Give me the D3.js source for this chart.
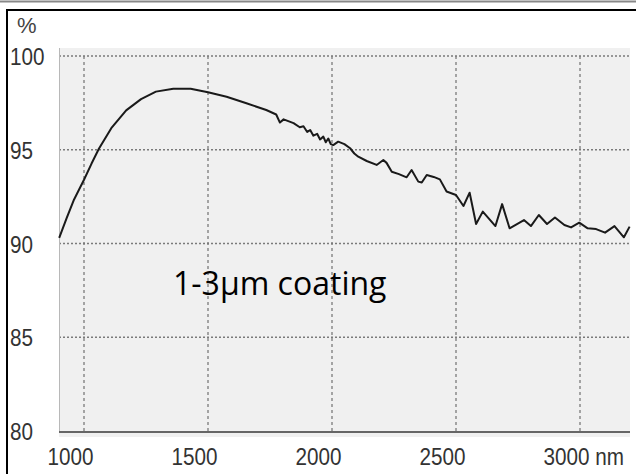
<!DOCTYPE html>
<html>
<head>
<meta charset="utf-8">
<script src="https://cdn.jsdelivr.net/npm/d3@7"></script>
<style>
  body { margin: 0; background: #fff; }
  svg { display: block; }
</style>
</head>
<body>
<div id="chart"></div>
<script>
// reflectance spectrum
const wavelength = [900, 930, 960, 1000, 1030, 1060, 1110, 1170, 1230, 1290, 1360, 1430, 1500, 1575, 1655, 1735,
    1775, 1790, 1805, 1845, 1870, 1885, 1900, 1912, 1925, 1940, 1952, 1965, 1975, 1985, 1995, 2005, 2025, 2050,
    2073, 2090, 2106, 2140, 2180, 2207, 2220, 2241, 2270, 2301, 2321, 2348, 2362, 2382, 2410, 2435, 2462, 2500,
    2530, 2555, 2581, 2608, 2659, 2686, 2716, 2774, 2802, 2834, 2867, 2899, 2937, 2964, 2997, 3031, 3065, 3101,
    3139, 3177, 3200];
const reflectance = [90.3, 91.35, 92.35, 93.4, 94.25, 95.05, 96.15, 97.1, 97.7, 98.1, 98.25, 98.25, 98.07, 97.83, 97.48, 97.12,
    96.88, 96.45, 96.62, 96.42, 96.2, 96.25, 95.95, 96.05, 95.75, 95.85, 95.55, 95.7, 95.4, 95.6, 95.3, 95.25, 95.43, 95.3,
    95.08, 94.8, 94.63, 94.4, 94.19, 94.45, 94.3, 93.83, 93.7, 93.53, 93.92, 93.3, 93.25, 93.65, 93.55, 93.42, 92.77, 92.59,
    92.0, 92.71, 91.04, 91.7, 90.93, 92.1, 90.81, 91.25, 90.93, 91.52, 91.04, 91.39, 90.99, 90.86, 91.11, 90.81, 90.77, 90.58,
    90.93, 90.33, 90.9];

const xTicks = [1000, 1500, 2000, 2500, 3000];
const yTicks = [80, 85, 90, 95, 100];
const yGrid = [85, 90, 95, 100];
const unitX = "nm";
const unitY = "%";
const note = "1-3µm coating";

const width = 636;
const height = 474;
const plot = { left: 59, right: 630, top: 48, bottom: 437 };
const tickFont = "'Liberation Sans', Arial, sans-serif";
const charWidth = 11.5; // narrow tick font, squeezed per character

const svg = d3.select("#chart")
    .append("svg")
    .attr("width", width)
    .attr("height", height);

// frame lines
svg.append("line")
    .attr("x1", 0).attr("x2", width)
    .attr("y1", 1.5).attr("y2", 1.5)
    .attr("stroke", "#888").attr("stroke-width", 2);
svg.append("line")
    .attr("x1", 6).attr("x2", width)
    .attr("y1", 10).attr("y2", 10)
    .attr("stroke", "#000").attr("stroke-width", 2);
svg.append("line")
    .attr("x1", 7).attr("x2", 7)
    .attr("y1", 9).attr("y2", height)
    .attr("stroke", "#000").attr("stroke-width", 2);

const x = d3.scaleLinear()
    .domain([900, 3200])
    .range([59.2, 629.6]);

const y = d3.scaleLinear()
    .domain([80, 100])
    .range([431, 56]);

svg.append("rect")
    .attr("x", plot.left)
    .attr("y", plot.top)
    .attr("width", plot.right - plot.left)
    .attr("height", plot.bottom - plot.top)
    .attr("fill", "#f0f0f0");

// grid
svg.append("g")
    .selectAll("line")
    .data(yGrid)
    .join("line")
    .attr("x1", plot.left)
    .attr("x2", plot.right)
    .attr("y1", d => y(d))
    .attr("y2", d => y(d))
    .attr("stroke", "#7a7a7a")
    .attr("stroke-width", 1.3)
    .attr("stroke-dasharray", "2,2");

svg.append("g")
    .selectAll("line")
    .data(xTicks)
    .join("line")
    .attr("x1", d => x(d))
    .attr("x2", d => x(d))
    .attr("y1", y(100))
    .attr("y2", y(80))
    .attr("stroke", "#7a7a7a")
    .attr("stroke-width", 1.3)
    .attr("stroke-dasharray", "3,3");

// axis lines
svg.append("line")
    .attr("x1", plot.left + 0.5).attr("x2", plot.left + 0.5)
    .attr("y1", plot.top).attr("y2", y(80))
    .attr("stroke", "#b8b8b8");
svg.append("line")
    .attr("x1", plot.left).attr("x2", plot.right)
    .attr("y1", y(80) + 1).attr("y2", y(80) + 1)
    .attr("stroke", "#666").attr("stroke-width", 2);

// curve
const points = wavelength.map((w, i) => [w, reflectance[i]]);
const line = d3.line()
    .x(d => x(d[0]))
    .y(d => y(d[1]));

svg.append("path")
    .datum(points)
    .attr("fill", "none")
    .attr("stroke", "#1a1a1a")
    .attr("stroke-width", 2)
    .attr("stroke-linejoin", "round")
    .attr("d", line);

// axes
const squeeze = sel => sel
    .attr("fill", "#333")
    .attr("font-family", tickFont)
    .attr("font-size", 24)
    .attr("lengthAdjust", "spacingAndGlyphs")
    .attr("textLength", function() { return this.textContent.length * charWidth; });

const xAxis = g => g
    .attr("transform", `translate(0,${y(80)})`)
    .call(d3.axisBottom(x).tickValues(xTicks).tickSize(0)
        .tickFormat(t => t === 3000 ? `${t} ${unitX}` : t))
    .call(g => g.select(".domain").remove())
    .call(g => g.selectAll("text")
        .attr("y", 34)
        .attr("dy", 0)
        .attr("dx", -37)
        .attr("text-anchor", "start")
        .call(squeeze));

const yAxis = g => g
    .attr("transform", "translate(10,0)")
    .call(d3.axisLeft(y).tickValues(yTicks).tickSize(0))
    .call(g => g.select(".domain").remove())
    .call(g => g.selectAll("text")
        .attr("x", 0)
        .attr("dy", "0.36em")
        .attr("text-anchor", "start")
        .call(squeeze));

svg.append("g").call(xAxis);
svg.append("g").call(yAxis);

svg.append("text")
    .attr("x", 17)
    .attr("y", 33)
    .attr("fill", "#444")
    .attr("font-family", tickFont)
    .attr("font-size", 22)
    .text(unitY);

svg.append("text")
    .attr("x", 173)
    .attr("y", 295)
    .attr("fill", "#000")
    .attr("font-family", "'Open Sans', sans-serif")
    .attr("font-size", 32)
    .text(note);
</script>
</body>
</html>
